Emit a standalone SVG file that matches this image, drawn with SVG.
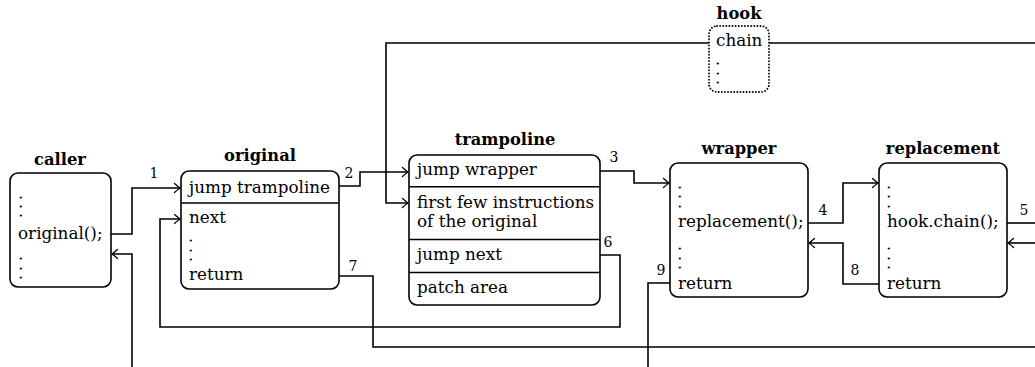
<svg xmlns="http://www.w3.org/2000/svg" width="1035" height="367" viewBox="0 0 1035 367">
<style>
.box{fill:#fff;stroke:#000;stroke-width:1.6}
.hk{fill:#fff;stroke:#000;stroke-width:1.8;stroke-dasharray:0.1 3;stroke-linecap:round}
.div{stroke:#000;stroke-width:1.6}
.t{font-family:"DejaVu Serif",serif;font-size:16.8px;fill:#000}
.p{font-family:"DejaVu Serif",serif;font-size:8px;fill:#000;stroke:#000;stroke-width:1.1}
.b{font-family:"DejaVu Serif",serif;font-size:16.3px;font-weight:bold;fill:#000;text-anchor:middle}
.n{font-family:"DejaVu Serif",serif;font-size:14px;fill:#000;text-anchor:middle}
.c{fill:none;stroke:#000;stroke-width:1.6}
.a{marker-end:url(#ah)}
</style>
<defs>
<marker id="ah" markerUnits="userSpaceOnUse" markerWidth="12" markerHeight="12" viewBox="-7 -6 8 12" refX="0" refY="0" orient="auto">
<path d="M-5.5,-4.5 Q-1.5,-1 0,0 Q-1.5,1 -5.5,4.5" fill="none" stroke="#000" stroke-width="1.3" stroke-linecap="round"/>
</marker>
</defs>

<g id="connectors">
<path class="c a" d="M111,234 H132 V188 H180"/>
<path class="c a" d="M339,186 H360 V172 H408"/>
<path class="c a" d="M600,171 H634 V183 H669"/>
<path class="c a" d="M808,223 H843 V183 H878"/>
<path class="c" d="M1007,223 H1035"/>
<path class="c a" d="M1035,243 H1008"/>
<path class="c a" d="M879,284 H843 V243 H809"/>
<path class="c" d="M670,283 H648 V367"/>
<path class="c a" d="M600,255 H620 V327 H160 V219 H180"/>
<path class="c" d="M339,276 H373 V347 H1035"/>
<path class="c a" d="M132,367 V254 H112"/>
<path class="c a" d="M709,43 H386 V203 H408"/>
<path class="c" d="M769,43 H1035"/>
<text class="n" x="154" y="178">1</text>
<text class="n" x="349" y="178">2</text>
<text class="n" x="614" y="162">3</text>
<text class="n" x="823" y="215">4</text>
<text class="n" x="1024" y="215">5</text>
<text class="n" x="608" y="247">6</text>
<text class="n" x="353" y="271">7</text>
<text class="n" x="855" y="275">8</text>
<text class="n" x="661" y="275">9</text>
</g>

<g id="caller">
<text class="b" x="60" y="165">caller</text>
<rect class="box" x="10" y="173" width="101" height="114" rx="8"/>
<text class="p" x="19.5" y="198">.</text>
<text class="p" x="19.5" y="207">.</text>
<text class="p" x="19.5" y="216">.</text>
<text class="t" x="18" y="239">original();</text>
<text class="p" x="19.5" y="259">.</text>
<text class="p" x="19.5" y="268.5">.</text>
<text class="p" x="19.5" y="278">.</text>
</g>

<g id="original">
<text class="b" x="260" y="161">original</text>
<rect class="box" x="181" y="171" width="158" height="118" rx="8"/>
<line class="div" x1="181" y1="203" x2="339" y2="203"/>
<text class="t" x="189" y="193">jump trampoline</text>
<text class="t" x="189" y="223">next</text>
<text class="p" x="189.5" y="241">.</text>
<text class="p" x="189.5" y="250.5">.</text>
<text class="p" x="189.5" y="260">.</text>
<text class="t" x="189" y="280">return</text>
</g>

<g id="trampoline">
<text class="b" x="505" y="145">trampoline</text>
<rect class="box" x="409" y="155" width="191" height="150" rx="8"/>
<line class="div" x1="409" y1="186.7" x2="600" y2="186.7"/>
<line class="div" x1="409" y1="239.5" x2="600" y2="239.5"/>
<line class="div" x1="409" y1="272.5" x2="600" y2="272.5"/>
<text class="t" x="417" y="175">jump wrapper</text>
<text class="t" x="417" y="207.5">first few instructions</text>
<text class="t" x="417" y="227">of the original</text>
<text class="t" x="417" y="259.5">jump next</text>
<text class="t" x="417" y="292.5">patch area</text>
</g>

<g id="wrapper">
<text class="b" x="739" y="154">wrapper</text>
<rect class="box" x="670" y="163" width="138" height="134" rx="8"/>
<text class="p" x="678.5" y="187.5">.</text>
<text class="p" x="678.5" y="197">.</text>
<text class="p" x="678.5" y="206.5">.</text>
<text class="t" x="678" y="227">replacement();</text>
<text class="p" x="678.5" y="249">.</text>
<text class="p" x="678.5" y="258.5">.</text>
<text class="p" x="678.5" y="268">.</text>
<text class="t" x="678" y="288.5">return</text>
</g>

<g id="replacement">
<text class="b" x="943" y="153.5">replacement</text>
<rect class="box" x="879" y="163" width="128" height="134" rx="8"/>
<text class="p" x="887.5" y="187.5">.</text>
<text class="p" x="887.5" y="197">.</text>
<text class="p" x="887.5" y="206.5">.</text>
<text class="t" x="887" y="227">hook.chain();</text>
<text class="p" x="887.5" y="249">.</text>
<text class="p" x="887.5" y="258.5">.</text>
<text class="p" x="887.5" y="268">.</text>
<text class="t" x="887" y="288.5">return</text>
</g>

<g id="hook">
<text class="b" x="739" y="18.5">hook</text>
<rect class="hk" x="709" y="26" width="60" height="66" rx="8"/>
<text class="t" x="716" y="46">chain</text>
<text class="p" x="716.5" y="64">.</text>
<text class="p" x="716.5" y="73.5">.</text>
<text class="p" x="716.5" y="83">.</text>
</g>
</svg>
